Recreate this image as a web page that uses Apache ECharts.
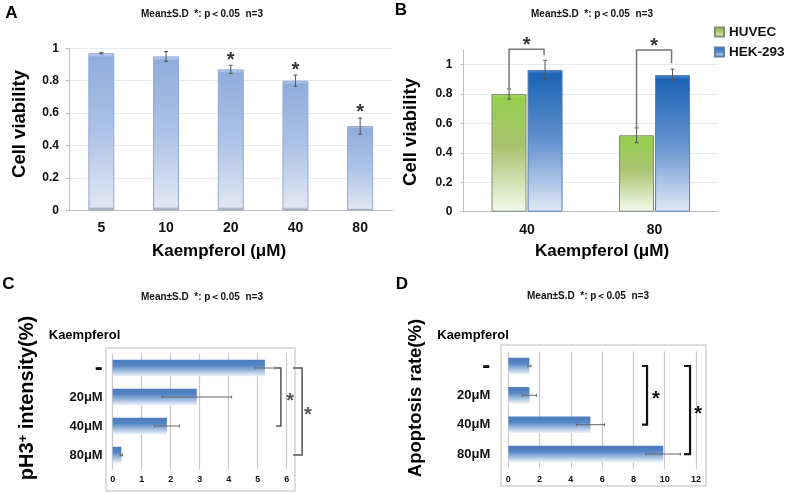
<!DOCTYPE html>
<html><head><meta charset="utf-8">
<script src="https://cdn.jsdelivr.net/npm/echarts@6/dist/echarts.min.js"></script>
<style>html,body{margin:0;padding:0;background:#fff}#c{width:787px;height:493px}</style>
</head><body><div id="c"></div>
<script>
// ---------- data ----------
const catsA = ['5', '10', '20', '40', '80'];
const viabA = [0.97, 0.95, 0.87, 0.80, 0.52];
const errA = [0.005, 0.03, 0.025, 0.035, 0.05];
const sigA = [0, 0, 1, 1, 1];

const catsB = ['40', '80'];
const huvec = [0.80, 0.52];
const huvecErr = [0.035, 0.05];
const hek = [0.965, 0.93];
const hekErr = [0.065, 0.04];
// bracket: [top value, left leg bottom value, right leg bottom value]
const bracketB = [[1.105, 0.84, 1.065], [1.10, 0.57, 1.01]];

const catsCD = ['-', '20μM', '40μM', '80μM'];
const ph3 = [5.25, 2.9, 1.87, 0.3];
const ph3Err = [0.35, 1.2, 0.43, 0.04];
const apop = [1.35, 1.35, 5.25, 9.9];
const apopErr = [0.1, 0.45, 0.9, 1.1];
// bracket: [from cat, to cat, x value, tick start value, star x value]
const bracketC = [[0, 2, 5.8, 5.63, 6.12], [0, 3, 6.53, 6.22, 6.73]];
const bracketD = [[0, 2, 8.87, 8.55, 9.44], [0, 3, 11.62, 11.23, 12.13]];

const titleText = 'Mean±S.D  *: p＜0.05  n=3';
const FF = '"Liberation Sans", Arial, sans-serif';

// ---------- helpers ----------
function grad(stops) {
  return new echarts.graphic.LinearGradient(0, 0, 0, 1, stops.map((c, i) => ({offset: c[0], color: c[1]})));
}
function starText(x, y, size, color) {
  return {type: 'text', x: x, y: y, style: {text: '*', font: 'bold ' + size + 'px ' + FF, fill: color,
    textAlign: 'center', textVerticalAlign: 'middle', align: 'center', verticalAlign: 'middle'}};
}
function vErrRender(offset, flags) {
  return function (params, api) {
    const i = api.value(0), v = api.value(1), e = api.value(2);
    const t = api.coord([i, v + e]), b = api.coord([i, v - e]);
    const x = t[0] + offset;
    const kids = [
      {type: 'line', shape: {x1: x, y1: t[1], x2: x, y2: b[1]}, style: {stroke: '#555', lineWidth: 1}},
      {type: 'line', shape: {x1: x - 2, y1: t[1], x2: x + 2, y2: t[1]}, style: {stroke: '#555', lineWidth: 1}},
      {type: 'line', shape: {x1: x - 2, y1: b[1], x2: x + 2, y2: b[1]}, style: {stroke: '#555', lineWidth: 1}}
    ];
    if (flags && flags[params.dataIndex]) kids.push(starText(x, t[1] - 5, 20, '#333'));
    return {type: 'group', children: kids};
  };
}
function hErrRender(params, api) {
  const v = api.value(0), i = api.value(1), e = api.value(2);
  const l = api.coord([v - e, i]), r = api.coord([v + e, i]);
  const y = l[1];
  return {type: 'group', children: [
    {type: 'line', shape: {x1: l[0], y1: y, x2: r[0], y2: y}, style: {stroke: '#666', lineWidth: 1}},
    {type: 'line', shape: {x1: l[0], y1: y - 1.5, x2: l[0], y2: y + 1.5}, style: {stroke: '#666', lineWidth: 1}},
    {type: 'line', shape: {x1: r[0], y1: y - 1.5, x2: r[0], y2: y + 1.5}, style: {stroke: '#666', lineWidth: 1}}
  ]};
}
function hBracketRender(color, lw, starSize) {
  return function (params, api) {
    const f = api.value(0), t = api.value(1), xv = api.value(2), tv = api.value(3), sv = api.value(4);
    const p1 = api.coord([xv, f]), p2 = api.coord([xv, t]), k = api.coord([tv, f]), s = api.coord([sv, f]);
    const ym = (p1[1] + p2[1]) / 2;
    return {type: 'group', children: [
      {type: 'polyline', shape: {points: [[k[0], p1[1]], [p1[0], p1[1]], [p2[0], p2[1]], [k[0], p2[1]]]},
        style: {stroke: color, lineWidth: lw, fill: null}},
      starText(s[0], ym + 4, starSize, color)
    ]};
  };
}
function bBracketRender(params, api) {
  const i = api.value(0), top = api.value(1), lb = api.value(2), rb = api.value(3);
  const pt = api.coord([i, top]), pl = api.coord([i, lb]), pr = api.coord([i, rb]);
  const xl = pt[0] - 18, xr = pt[0] + 17;
  return {type: 'group', children: [
    {type: 'polyline', shape: {points: [[xl, pl[1]], [xl, pt[1]], [xr, pt[1]], [xr, pr[1]]]},
      style: {stroke: '#777', lineWidth: 1.5, fill: null}},
    starText((xl + xr) / 2, pt[1] - 4, 20, '#333')
  ]};
}

const axisLabelBase = {color: '#111', fontFamily: FF, fontWeight: 'bold'};
const grayLine = {lineStyle: {color: '#bfbfbf', width: 1}};

const option = {
  animation: false,
  textStyle: {fontFamily: FF},
  grid: [
    {left: 69, right: 394.5, top: 48.3, bottom: 282.7},
    {left: 463.3, right: 68.7, top: 50, bottom: 281.3},
    {left: 112.7, right: 500.3, top: 353.5, bottom: 23.5},
    {left: 508.3, right: 91, top: 351.3, bottom: 24.3}
  ],
  legend: {
    data: ['HUVEC', 'HEK-293'], orient: 'vertical', left: 714, top: 25, padding: 0,
    itemWidth: 9, itemHeight: 9, itemGap: 6, icon: 'rect',
    textStyle: {fontSize: 13.5, fontWeight: 'bold', color: '#111', fontFamily: FF, padding: [0, 0, 0, 0]}
  },
  xAxis: [
    {gridIndex: 0, type: 'category', data: catsA, axisLine: grayLine,
      axisTick: {length: 3, lineStyle: {color: '#bfbfbf'}},
      axisLabel: Object.assign({fontSize: 14, margin: 11}, axisLabelBase)},
    {gridIndex: 1, type: 'category', data: catsB, axisLine: grayLine,
      axisTick: {length: 3, lineStyle: {color: '#bfbfbf'}},
      axisLabel: Object.assign({fontSize: 14, margin: 11}, axisLabelBase)},
    {gridIndex: 2, type: 'value', min: 0, max: 6, interval: 1, axisLine: grayLine,
      axisTick: {length: 3, lineStyle: {color: '#bfbfbf'}},
      splitLine: {lineStyle: {color: '#c8c8c8', width: 1.2}},
      axisLabel: Object.assign({fontSize: 9, margin: 6}, axisLabelBase)},
    {gridIndex: 3, type: 'value', min: 0, max: 12, interval: 2, axisLine: grayLine,
      axisTick: {length: 3, lineStyle: {color: '#bfbfbf'}},
      splitLine: {lineStyle: {color: '#c8c8c8', width: 1.2}},
      axisLabel: Object.assign({fontSize: 9, margin: 6}, axisLabelBase)}
  ],
  yAxis: [
    {gridIndex: 0, type: 'value', min: 0, max: 1, interval: 0.2,
      axisLine: Object.assign({show: true}, grayLine), axisTick: {show: true, length: 3, lineStyle: {color: '#bfbfbf'}},
      splitLine: {lineStyle: {color: '#e6ebf2'}},
      axisLabel: Object.assign({fontSize: 12, margin: 10}, axisLabelBase)},
    {gridIndex: 1, type: 'value', min: 0, max: 1.1, interval: 0.2,
      axisLine: Object.assign({show: true}, grayLine), axisTick: {show: true, length: 3, lineStyle: {color: '#bfbfbf'}},
      splitLine: {showMaxLine: false, lineStyle: {color: '#e6ebf2'}},
      axisLabel: Object.assign({fontSize: 12, margin: 11, showMaxLabel: false}, axisLabelBase)},
    {gridIndex: 2, type: 'category', data: catsCD, inverse: true,
      axisLine: {show: false}, axisTick: {show: false},
      axisLabel: Object.assign({fontSize: 13, margin: 10,
        formatter: v => v === '-' ? '{d|' + v + '}' : v,
        rich: {d: {fontSize: 24, fontWeight: 'bold', fontFamily: FF, color: '#111'}}}, axisLabelBase)},
    {gridIndex: 3, type: 'category', data: catsCD, inverse: true,
      axisLine: {show: false}, axisTick: {show: false},
      axisLabel: Object.assign({fontSize: 13, margin: 18,
        formatter: v => v === '-' ? '{d|' + v + '}' : v,
        rich: {d: {fontSize: 24, fontWeight: 'bold', fontFamily: FF, color: '#111'}}}, axisLabelBase)}
  ],
  series: [
    {type: 'bar', xAxisIndex: 0, yAxisIndex: 0, data: viabA, barWidth: 26,
      itemStyle: {color: grad([[0, '#cddcf2'], [0.025, '#8faddc'], [0.5, '#adc2e6'], [0.975, '#e0e7f3'], [1, '#8e939c']]),
        borderColor: '#94a9d0', borderWidth: 1}},
    {type: 'custom', xAxisIndex: 0, yAxisIndex: 0, clip: false, z: 5,
      data: catsA.map((c, i) => [i, viabA[i], errA[i]]), renderItem: vErrRender(0, sigA)},

    {type: 'bar', name: 'HUVEC', xAxisIndex: 1, yAxisIndex: 1, data: huvec, barWidth: 35, barGap: '3%',
      itemStyle: {color: grad([[0, '#b6e07e'], [0.03, '#96cf4e'], [0.45, '#a9c370'], [1, '#f5faec']]),
        borderColor: '#7f8f6a', borderWidth: 1}},
    {type: 'bar', name: 'HEK-293', xAxisIndex: 1, yAxisIndex: 1, data: hek, barWidth: 35, barGap: '3%',
      itemStyle: {color: grad([[0, '#4e8fd6'], [0.03, '#1c63b4'], [0.5, '#6392cf'], [1, '#e1e9f6']]),
        borderColor: '#5c7fae', borderWidth: 1}},
    {type: 'custom', xAxisIndex: 1, yAxisIndex: 1, clip: false, z: 5,
      data: catsB.map((c, i) => [i, huvec[i], huvecErr[i]]), renderItem: vErrRender(-18)},
    {type: 'custom', xAxisIndex: 1, yAxisIndex: 1, clip: false, z: 5,
      data: catsB.map((c, i) => [i, hek[i], hekErr[i]]), renderItem: vErrRender(18)},
    {type: 'custom', xAxisIndex: 1, yAxisIndex: 1, clip: false, z: 6,
      data: bracketB.map((b, i) => [i, b[0], b[1], b[2]]), renderItem: bBracketRender},

    {type: 'bar', xAxisIndex: 2, yAxisIndex: 2, data: ph3, barWidth: 16.5,
      itemStyle: {color: grad([[0, '#4a7cbf'], [0.35, '#5586c5'], [1, '#eef3fa']])}},
    {type: 'custom', xAxisIndex: 2, yAxisIndex: 2, clip: false, z: 5,
      data: catsCD.map((c, i) => [ph3[i], i, ph3Err[i]]), renderItem: hErrRender},
    {type: 'custom', xAxisIndex: 2, yAxisIndex: 2, clip: false, z: 6,
      data: bracketC, renderItem: hBracketRender('#555', 1.5, 20)},

    {type: 'bar', xAxisIndex: 3, yAxisIndex: 3, data: apop, barWidth: 16.5,
      itemStyle: {color: grad([[0, '#4a7cbf'], [0.35, '#5586c5'], [1, '#eef3fa']])}},
    {type: 'custom', xAxisIndex: 3, yAxisIndex: 3, clip: false, z: 5,
      data: catsCD.map((c, i) => [apop[i], i, apopErr[i]]), renderItem: hErrRender},
    {type: 'custom', xAxisIndex: 3, yAxisIndex: 3, clip: false, z: 6,
      data: bracketD, renderItem: hBracketRender('#111', 2.2, 20)}
  ],
  graphic: []
};

function txt(text, x, y, size, opts) {
  opts = opts || {};
  const el = {type: 'text', x: x, y: y, rotation: opts.rot || 0, z: 10,
    style: {text: text, font: 'bold ' + size + 'px ' + FF, fill: opts.fill || '#000',
      textAlign: opts.align || 'center', textVerticalAlign: 'middle',
      align: opts.align || 'center', verticalAlign: 'middle'}};
  if (opts.rich) el.style.rich = opts.rich;
  return el;
}
const R90 = Math.PI / 2;
option.graphic = [
  // frames of panels C and D
  {type: 'rect', shape: {x: 106, y: 348, width: 189, height: 143}, style: {fill: 'none', stroke: '#d2d2d2', lineWidth: 1.5}, z: 0},
  {type: 'rect', shape: {x: 501, y: 345, width: 205, height: 141}, style: {fill: 'none', stroke: '#d2d2d2', lineWidth: 1.5}, z: 0},
  // panel letters
  txt('A', 11.5, 13, 17), txt('B', 401, 10.5, 17), txt('C', 8.5, 284, 17), txt('D', 402, 284, 17),
  // stats notes
  txt(titleText, 202, 14, 10, {fill: '#111'}), txt(titleText, 592, 14, 10, {fill: '#111'}),
  txt(titleText, 202, 297.5, 10, {fill: '#111'}), txt(titleText, 588, 296, 10, {fill: '#111'}),
  // axis names
  txt('Cell viability', 20, 124, 18.5, {rot: R90}),
  txt('Cell viability', 411, 132, 18.5, {rot: R90}),
  txt('Kaempferol (μM)', 219, 251, 17),
  txt('Kaempferol (μM)', 602, 251, 17),
  txt('{a|pH3}{s|+}{a| intensity(%)}', 27, 398, 20, {rot: R90, rich: {
    a: {fontSize: 20, fontWeight: 'bold', fontFamily: FF, color: '#000'},
    s: {fontSize: 13, fontWeight: 'bold', fontFamily: FF, color: '#000', verticalAlign: 'top', lineHeight: 20}}}),
  txt('Apoptosis rate(%)', 416, 398, 18.5, {rot: R90}),
  txt('Kaempferol', 84.5, 335, 13), txt('Kaempferol', 473, 335, 13)
];

const chart = echarts.init(document.getElementById('c'), null, {renderer: 'canvas'});
chart.setOption(option);
</script></body></html>
